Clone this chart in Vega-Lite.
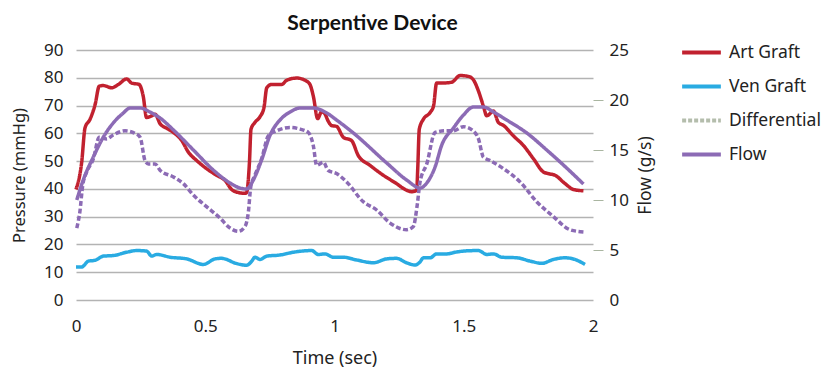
{
  "$schema": "https://vega.github.io/schema/vega-lite/v6.json",
  "width": 517,
  "height": 250,
  "autosize": {"type": "none"},
  "padding": {"left": 76, "top": 50, "right": 231, "bottom": 70},
  "title": {"text": "Serpentive Device", "fontSize": 21, "font": "Lato", "fontWeight": "bold", "anchor": "middle", "color": "#111111", "offset": 14, "dx": 38, "dy": 17},
  "config": {
    "view": {"stroke": null},
    "font": "Noto Sans",
    "axisLeft": {"values": [0, 10, 20, 30, 40, 50, 60, 70, 80, 90], "labelOverlap": false, "labelFlush": false, "grid": true, "gridColor": "#b3b3b3", "gridWidth": 1.3, "ticks": false, "domain": false, "labelFontSize": 17, "titleFontSize": 16.5, "titleFontWeight": "normal", "labelColor": "#222222", "titleColor": "#222222", "labelPadding": 13, "titlePadding": 16}
  },
  "datasets": {
    "pressure": [
      {"series": "Art Graft", "t": 0.0, "v": 39.8},
      {"series": "Art Graft", "t": 0.022, "v": 49.6},
      {"series": "Art Graft", "t": 0.035, "v": 62},
      {"series": "Art Graft", "t": 0.054, "v": 65},
      {"series": "Art Graft", "t": 0.074, "v": 70.4},
      {"series": "Art Graft", "t": 0.09, "v": 77},
      {"series": "Art Graft", "t": 0.106, "v": 77.2},
      {"series": "Art Graft", "t": 0.138, "v": 76.4},
      {"series": "Art Graft", "t": 0.164, "v": 77.6},
      {"series": "Art Graft", "t": 0.196, "v": 79.6},
      {"series": "Art Graft", "t": 0.215, "v": 78.1},
      {"series": "Art Graft", "t": 0.244, "v": 77.6},
      {"series": "Art Graft", "t": 0.26, "v": 73.4},
      {"series": "Art Graft", "t": 0.273, "v": 65.7},
      {"series": "Art Graft", "t": 0.293, "v": 66.3},
      {"series": "Art Graft", "t": 0.306, "v": 66.9},
      {"series": "Art Graft", "t": 0.325, "v": 63.5},
      {"series": "Art Graft", "t": 0.351, "v": 61.8},
      {"series": "Art Graft", "t": 0.377, "v": 60.3},
      {"series": "Art Graft", "t": 0.409, "v": 57.4},
      {"series": "Art Graft", "t": 0.435, "v": 53.2},
      {"series": "Art Graft", "t": 0.467, "v": 50.2},
      {"series": "Art Graft", "t": 0.505, "v": 47.3},
      {"series": "Art Graft", "t": 0.544, "v": 44.9},
      {"series": "Art Graft", "t": 0.576, "v": 43.1},
      {"series": "Art Graft", "t": 0.602, "v": 39.8},
      {"series": "Art Graft", "t": 0.628, "v": 38.7},
      {"series": "Art Graft", "t": 0.654, "v": 38.4},
      {"series": "Art Graft", "t": 0.66, "v": 38.7},
      {"series": "Art Graft", "t": 0.671, "v": 49.6},
      {"series": "Art Graft", "t": 0.677, "v": 61.5},
      {"series": "Art Graft", "t": 0.692, "v": 63.9},
      {"series": "Art Graft", "t": 0.712, "v": 66},
      {"series": "Art Graft", "t": 0.727, "v": 69.2},
      {"series": "Art Graft", "t": 0.738, "v": 76.4},
      {"series": "Art Graft", "t": 0.757, "v": 77.6},
      {"series": "Art Graft", "t": 0.796, "v": 77.6},
      {"series": "Art Graft", "t": 0.815, "v": 79.1},
      {"series": "Art Graft", "t": 0.854, "v": 79.9},
      {"series": "Art Graft", "t": 0.886, "v": 79.1},
      {"series": "Art Graft", "t": 0.905, "v": 77.6},
      {"series": "Art Graft", "t": 0.918, "v": 73.4},
      {"series": "Art Graft", "t": 0.935, "v": 65.3},
      {"series": "Art Graft", "t": 0.95, "v": 67.8},
      {"series": "Art Graft", "t": 0.963, "v": 67},
      {"series": "Art Graft", "t": 0.975, "v": 64.5},
      {"series": "Art Graft", "t": 0.989, "v": 62.8},
      {"series": "Art Graft", "t": 1.008, "v": 62.5},
      {"series": "Art Graft", "t": 1.034, "v": 58.6},
      {"series": "Art Graft", "t": 1.066, "v": 57.4},
      {"series": "Art Graft", "t": 1.092, "v": 52},
      {"series": "Art Graft", "t": 1.137, "v": 48.5},
      {"series": "Art Graft", "t": 1.189, "v": 44.9},
      {"series": "Art Graft", "t": 1.24, "v": 41.9},
      {"series": "Art Graft", "t": 1.273, "v": 39.8},
      {"series": "Art Graft", "t": 1.298, "v": 39},
      {"series": "Art Graft", "t": 1.318, "v": 39.5},
      {"series": "Art Graft", "t": 1.322, "v": 47.3},
      {"series": "Art Graft", "t": 1.328, "v": 61.5},
      {"series": "Art Graft", "t": 1.344, "v": 65.1},
      {"series": "Art Graft", "t": 1.37, "v": 67.5},
      {"series": "Art Graft", "t": 1.383, "v": 69.8},
      {"series": "Art Graft", "t": 1.395, "v": 78.1},
      {"series": "Art Graft", "t": 1.415, "v": 78.1},
      {"series": "Art Graft", "t": 1.453, "v": 78.4},
      {"series": "Art Graft", "t": 1.486, "v": 80.8},
      {"series": "Art Graft", "t": 1.518, "v": 80.5},
      {"series": "Art Graft", "t": 1.537, "v": 79.3},
      {"series": "Art Graft", "t": 1.557, "v": 75.2},
      {"series": "Art Graft", "t": 1.576, "v": 69.8},
      {"series": "Art Graft", "t": 1.589, "v": 66.3},
      {"series": "Art Graft", "t": 1.615, "v": 68},
      {"series": "Art Graft", "t": 1.634, "v": 63.9},
      {"series": "Art Graft", "t": 1.653, "v": 62.9},
      {"series": "Art Graft", "t": 1.692, "v": 59.1},
      {"series": "Art Graft", "t": 1.731, "v": 55.6},
      {"series": "Art Graft", "t": 1.77, "v": 50.8},
      {"series": "Art Graft", "t": 1.808, "v": 46.1},
      {"series": "Art Graft", "t": 1.827, "v": 45.5},
      {"series": "Art Graft", "t": 1.853, "v": 44.9},
      {"series": "Art Graft", "t": 1.892, "v": 41.9},
      {"series": "Art Graft", "t": 1.924, "v": 39.8},
      {"series": "Art Graft", "t": 1.963, "v": 39.3},
      {"series": "Ven Graft", "t": 0.0, "v": 11.9},
      {"series": "Ven Graft", "t": 0.022, "v": 11.9},
      {"series": "Ven Graft", "t": 0.048, "v": 14},
      {"series": "Ven Graft", "t": 0.074, "v": 14.3},
      {"series": "Ven Graft", "t": 0.106, "v": 15.8},
      {"series": "Ven Graft", "t": 0.144, "v": 16},
      {"series": "Ven Graft", "t": 0.196, "v": 17.2},
      {"series": "Ven Graft", "t": 0.235, "v": 17.8},
      {"series": "Ven Graft", "t": 0.273, "v": 17.6},
      {"series": "Ven Graft", "t": 0.293, "v": 15.8},
      {"series": "Ven Graft", "t": 0.312, "v": 16.4},
      {"series": "Ven Graft", "t": 0.364, "v": 15.4},
      {"series": "Ven Graft", "t": 0.428, "v": 14.8},
      {"series": "Ven Graft", "t": 0.493, "v": 12.8},
      {"series": "Ven Graft", "t": 0.538, "v": 14.8},
      {"series": "Ven Graft", "t": 0.563, "v": 15},
      {"series": "Ven Graft", "t": 0.622, "v": 13.1},
      {"series": "Ven Graft", "t": 0.66, "v": 12.5},
      {"series": "Ven Graft", "t": 0.68, "v": 14},
      {"series": "Ven Graft", "t": 0.692, "v": 15.4},
      {"series": "Ven Graft", "t": 0.712, "v": 14.6},
      {"series": "Ven Graft", "t": 0.738, "v": 15.8},
      {"series": "Ven Graft", "t": 0.789, "v": 16.2},
      {"series": "Ven Graft", "t": 0.841, "v": 17.2},
      {"series": "Ven Graft", "t": 0.912, "v": 17.8},
      {"series": "Ven Graft", "t": 0.937, "v": 16.4},
      {"series": "Ven Graft", "t": 0.963, "v": 16.6},
      {"series": "Ven Graft", "t": 0.995, "v": 15.4},
      {"series": "Ven Graft", "t": 1.034, "v": 15.4},
      {"series": "Ven Graft", "t": 1.086, "v": 14.4},
      {"series": "Ven Graft", "t": 1.15, "v": 13.4},
      {"series": "Ven Graft", "t": 1.202, "v": 14.8},
      {"series": "Ven Graft", "t": 1.24, "v": 15},
      {"series": "Ven Graft", "t": 1.279, "v": 13.4},
      {"series": "Ven Graft", "t": 1.311, "v": 12.6},
      {"series": "Ven Graft", "t": 1.331, "v": 13.7},
      {"series": "Ven Graft", "t": 1.344, "v": 15.2},
      {"series": "Ven Graft", "t": 1.37, "v": 15.2},
      {"series": "Ven Graft", "t": 1.395, "v": 16.6},
      {"series": "Ven Graft", "t": 1.434, "v": 16.6},
      {"series": "Ven Graft", "t": 1.473, "v": 17.3},
      {"series": "Ven Graft", "t": 1.511, "v": 17.7},
      {"series": "Ven Graft", "t": 1.557, "v": 17.8},
      {"series": "Ven Graft", "t": 1.589, "v": 16.4},
      {"series": "Ven Graft", "t": 1.615, "v": 16.6},
      {"series": "Ven Graft", "t": 1.647, "v": 15.4},
      {"series": "Ven Graft", "t": 1.705, "v": 15.2},
      {"series": "Ven Graft", "t": 1.757, "v": 14},
      {"series": "Ven Graft", "t": 1.802, "v": 13.2},
      {"series": "Ven Graft", "t": 1.847, "v": 14.6},
      {"series": "Ven Graft", "t": 1.892, "v": 15.2},
      {"series": "Ven Graft", "t": 1.93, "v": 14.6},
      {"series": "Ven Graft", "t": 1.969, "v": 12.8}
    ],
    "diff": [
      {"series": "Differential", "t": 0.003, "v": 25.9},
      {"series": "Differential", "t": 0.015, "v": 31.8},
      {"series": "Differential", "t": 0.026, "v": 41.3},
      {"series": "Differential", "t": 0.041, "v": 46},
      {"series": "Differential", "t": 0.067, "v": 50.8},
      {"series": "Differential", "t": 0.09, "v": 58.6},
      {"series": "Differential", "t": 0.119, "v": 58},
      {"series": "Differential", "t": 0.144, "v": 59.4},
      {"series": "Differential", "t": 0.19, "v": 60.9},
      {"series": "Differential", "t": 0.228, "v": 60},
      {"series": "Differential", "t": 0.248, "v": 58.6},
      {"series": "Differential", "t": 0.267, "v": 50.2},
      {"series": "Differential", "t": 0.28, "v": 49},
      {"series": "Differential", "t": 0.306, "v": 49},
      {"series": "Differential", "t": 0.325, "v": 46.7},
      {"series": "Differential", "t": 0.377, "v": 44.3},
      {"series": "Differential", "t": 0.415, "v": 41.9},
      {"series": "Differential", "t": 0.454, "v": 37.8},
      {"series": "Differential", "t": 0.505, "v": 33.6},
      {"series": "Differential", "t": 0.557, "v": 29.5},
      {"series": "Differential", "t": 0.596, "v": 25.9},
      {"series": "Differential", "t": 0.628, "v": 24.7},
      {"series": "Differential", "t": 0.654, "v": 26.5},
      {"series": "Differential", "t": 0.667, "v": 31.8},
      {"series": "Differential", "t": 0.676, "v": 40.7},
      {"series": "Differential", "t": 0.692, "v": 44.9},
      {"series": "Differential", "t": 0.718, "v": 50.8},
      {"series": "Differential", "t": 0.744, "v": 59.1},
      {"series": "Differential", "t": 0.776, "v": 60.9},
      {"series": "Differential", "t": 0.828, "v": 62.1},
      {"series": "Differential", "t": 0.867, "v": 61.5},
      {"series": "Differential", "t": 0.899, "v": 60.3},
      {"series": "Differential", "t": 0.918, "v": 55.6},
      {"series": "Differential", "t": 0.931, "v": 48.5},
      {"series": "Differential", "t": 0.957, "v": 49.6},
      {"series": "Differential", "t": 0.975, "v": 46.7},
      {"series": "Differential", "t": 1.008, "v": 45.5},
      {"series": "Differential", "t": 1.047, "v": 42.5},
      {"series": "Differential", "t": 1.111, "v": 35.4},
      {"series": "Differential", "t": 1.163, "v": 32.4},
      {"series": "Differential", "t": 1.215, "v": 27.7},
      {"series": "Differential", "t": 1.279, "v": 25.3},
      {"series": "Differential", "t": 1.305, "v": 26.5},
      {"series": "Differential", "t": 1.32, "v": 34.2},
      {"series": "Differential", "t": 1.331, "v": 42.5},
      {"series": "Differential", "t": 1.357, "v": 49},
      {"series": "Differential", "t": 1.389, "v": 60.3},
      {"series": "Differential", "t": 1.428, "v": 60.9},
      {"series": "Differential", "t": 1.46, "v": 60.9},
      {"series": "Differential", "t": 1.499, "v": 62.4},
      {"series": "Differential", "t": 1.537, "v": 60.9},
      {"series": "Differential", "t": 1.557, "v": 58},
      {"series": "Differential", "t": 1.576, "v": 51.4},
      {"series": "Differential", "t": 1.602, "v": 50.2},
      {"series": "Differential", "t": 1.653, "v": 47.3},
      {"series": "Differential", "t": 1.718, "v": 42.5},
      {"series": "Differential", "t": 1.782, "v": 35.4},
      {"series": "Differential", "t": 1.847, "v": 30},
      {"series": "Differential", "t": 1.911, "v": 25.3},
      {"series": "Differential", "t": 1.963, "v": 24.5}
    ],
    "flow": [
      {"series": "Flow", "t": 0.003, "v": 10},
      {"series": "Flow", "t": 0.028, "v": 12},
      {"series": "Flow", "t": 0.067, "v": 14.3},
      {"series": "Flow", "t": 0.106, "v": 16.3},
      {"series": "Flow", "t": 0.144, "v": 17.7},
      {"series": "Flow", "t": 0.183, "v": 18.7},
      {"series": "Flow", "t": 0.209, "v": 19.2},
      {"series": "Flow", "t": 0.248, "v": 19.2},
      {"series": "Flow", "t": 0.286, "v": 18.8},
      {"series": "Flow", "t": 0.325, "v": 18.2},
      {"series": "Flow", "t": 0.377, "v": 17},
      {"series": "Flow", "t": 0.454, "v": 15},
      {"series": "Flow", "t": 0.531, "v": 13},
      {"series": "Flow", "t": 0.596, "v": 11.7},
      {"series": "Flow", "t": 0.634, "v": 11.2},
      {"series": "Flow", "t": 0.66, "v": 11.1},
      {"series": "Flow", "t": 0.686, "v": 12},
      {"series": "Flow", "t": 0.718, "v": 14},
      {"series": "Flow", "t": 0.751, "v": 16.5},
      {"series": "Flow", "t": 0.789, "v": 18},
      {"series": "Flow", "t": 0.828, "v": 18.8},
      {"series": "Flow", "t": 0.867, "v": 19.2},
      {"series": "Flow", "t": 0.918, "v": 19.2},
      {"series": "Flow", "t": 0.97, "v": 18.7},
      {"series": "Flow", "t": 1.008, "v": 18},
      {"series": "Flow", "t": 1.073, "v": 16.7},
      {"series": "Flow", "t": 1.202, "v": 13.7},
      {"series": "Flow", "t": 1.279, "v": 12},
      {"series": "Flow", "t": 1.331, "v": 11.2},
      {"series": "Flow", "t": 1.357, "v": 11.7},
      {"series": "Flow", "t": 1.389, "v": 13.3},
      {"series": "Flow", "t": 1.415, "v": 15.5},
      {"series": "Flow", "t": 1.46, "v": 17.2},
      {"series": "Flow", "t": 1.499, "v": 18.5},
      {"series": "Flow", "t": 1.537, "v": 19.3},
      {"series": "Flow", "t": 1.576, "v": 19.3},
      {"series": "Flow", "t": 1.615, "v": 18.8},
      {"series": "Flow", "t": 1.666, "v": 18},
      {"series": "Flow", "t": 1.744, "v": 16.7},
      {"series": "Flow", "t": 1.821, "v": 15},
      {"series": "Flow", "t": 1.898, "v": 13.2},
      {"series": "Flow", "t": 1.963, "v": 11.6}
    ]
  },
  "layer": [
    {
      "layer": [
        {
          "data": {"name": "pressure"},
          "mark": {"type": "line", "strokeWidth": 3.5, "strokeJoin": "round", "interpolate": "monotone"},
          "encoding": {
            "x": {"field": "t", "type": "quantitative", "scale": {"domain": [0, 2], "nice": false},
              "axis": {"title": "Time (sec)", "values": [0, 0.5, 1, 1.5, 2], "format": "~g", "labelFlush": false, "labelOverlap": false, "grid": false, "ticks": false, "domain": false, "labelFontSize": 17, "titleFontSize": 18, "titleFontWeight": "normal", "labelColor": "#222222", "titleColor": "#222222", "labelPadding": 18, "titlePadding": 15}},
            "y": {"field": "v", "type": "quantitative", "scale": {"domain": [0, 90], "nice": false},
              "axis": {"title": "Pressure (mmHg)", "values": [0, 10, 20, 30, 40, 50, 60, 70, 80, 90], "labelOverlap": false}},
            "color": {"field": "series", "type": "nominal",
              "scale": {"domain": ["Art Graft", "Ven Graft", "Differential", "Flow"], "range": ["#c1212f", "#29abe2", "#b4bdac", "#8c6bb5"]},
              "legend": {"title": null, "orient": "none", "legendX": 604, "legendY": -19, "symbolType": "stroke", "symbolSize": 1500, "symbolStrokeWidth": 4, "labelFontSize": 17.5, "labelColor": "#222222", "rowPadding": 4, "labelOffset": 6}},
            "strokeDash": {"field": "series", "type": "nominal",
              "scale": {"domain": ["Art Graft", "Ven Graft", "Differential", "Flow"], "range": [[1, 0], [1, 0], [4, 2], [1, 0]]},
              "legend": {"title": null, "orient": "none", "legendX": 604, "legendY": -19, "symbolType": "stroke", "symbolSize": 1500, "symbolStrokeWidth": 4, "labelFontSize": 17.5, "labelColor": "#222222", "rowPadding": 4, "labelOffset": 6}}
          }
        },
        {
          "data": {"name": "diff"},
          "mark": {"type": "line", "strokeWidth": 3.5, "color": "#8c6bb5", "strokeDash": [5, 2.5], "interpolate": "monotone"},
          "encoding": {
            "x": {"field": "t", "type": "quantitative"},
            "y": {"field": "v", "type": "quantitative",
              "axis": {"title": "Pressure (mmHg)", "values": [0, 10, 20, 30, 40, 50, 60, 70, 80, 90], "labelOverlap": false}}
          }
        }
      ]
    },
    {
      "data": {"name": "flow"},
      "mark": {"type": "line", "strokeWidth": 3.5, "strokeJoin": "round", "interpolate": "monotone"},
      "encoding": {
        "x": {"field": "t", "type": "quantitative"},
        "y": {"field": "v", "type": "quantitative", "scale": {"domain": [0, 25], "nice": false},
          "axis": {"orient": "right", "title": "Flow (g/s)", "titleAngle": 270, "titleBaseline": "top", "values": [0, 5, 10, 15, 20, 25], "labelOverlap": false, "labelFlush": false, "grid": false, "domain": false, "tickSize": 10, "tickColor": "#a9b5a0", "tickOpacity": {"condition": {"test": "datum.value == 0 || datum.value == 25", "value": 0}, "value": 1}, "labelFontSize": 17, "titleFontSize": 17.5, "titleFontWeight": "normal", "labelColor": "#222222", "titleColor": "#222222", "labelPadding": 6, "titlePadding": 8}},
        "color": {"field": "series", "type": "nominal"},
        "strokeDash": {"field": "series", "type": "nominal"}
      }
    }
  ],
  "resolve": {"scale": {"y": "independent"}}
}
